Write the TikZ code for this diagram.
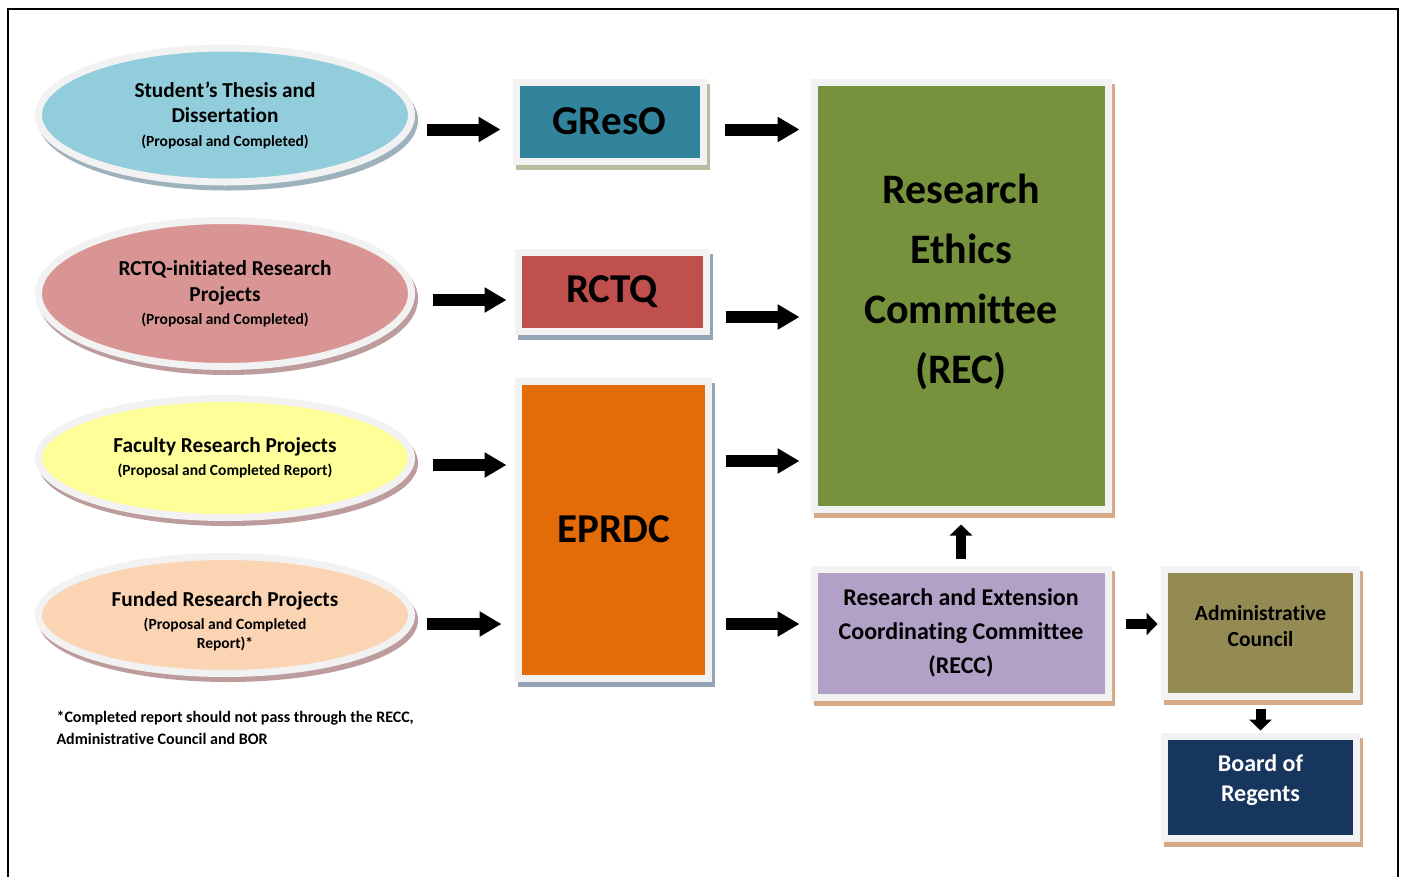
\documentclass[tikz,border=0pt]{standalone}
\usepackage{fontspec}
\setmainfont{Carlito}[Ligatures=NoCommon]
\usetikzlibrary{shapes.geometric,shadows,arrows.meta}

\definecolor{rim}{HTML}{F2F2F2}
\definecolor{thesisfill}{HTML}{92CDDC}
\definecolor{rctqfill}{HTML}{D99594}
\definecolor{facultyfill}{HTML}{FFFF99}
\definecolor{fundedfill}{HTML}{FBD4B4}
\definecolor{gresofill}{HTML}{31849B}
\definecolor{rctqbox}{HTML}{C0504D}
\definecolor{eprdcfill}{HTML}{E36C09}
\definecolor{recfill}{HTML}{76923C}
\definecolor{reccfill}{HTML}{B2A1C7}
\definecolor{adminfill}{HTML}{948A54}
\definecolor{borfill}{HTML}{17365D}
\definecolor{shblue}{HTML}{9DB2BD}
\definecolor{shmauve}{HTML}{BC9C9C}
\definecolor{shgreen}{HTML}{B8BEA0}
\definecolor{shsteel}{HTML}{95A3B6}
\definecolor{shtan}{HTML}{D6A987}

\newcommand{\sm}{\fontsize{15.5}{18}\selectfont}

\begin{document}
\begin{tikzpicture}[x=1pt, y=-1pt]
        \tikzstyle{oval}=[ellipse, draw=rim, line width=7pt, inner sep=0pt, minimum width=373pt, align=center, font=\bfseries\fontsize{21.3}{25}\selectfont]
        \tikzstyle{box}=[rectangle, draw=rim, line width=7pt, inner sep=0pt, align=center, font=\bfseries]
        \tikzstyle{lifted}=[drop shadow={shadow xshift=3pt, shadow yshift=-5pt, draw=#1, fill=#1, line width=7pt, opacity=1}]
        \tikzstyle{bigarrow}=[-{Triangle[length=22pt,width=24pt]}, line width=12pt]
        \tikzstyle{smallarrow}=[-{Triangle[length=11pt,width=22pt]}, line width=10pt]

        \useasboundingbox (0,0) rectangle (1407,876);
        \draw[line width=2pt] (8,880) |- (1398,9) -- (1398,880);

        % sources
        \node (thesis) [oval, fill=thesisfill, minimum height=134pt, lifted=shblue] at (225,115)
            {Student’s Thesis and\\Dissertation\\[-1pt]\sm (Proposal and Completed)};
        \node (rctqproj) [oval, fill=rctqfill, minimum height=146pt, lifted=shmauve] at (225,293.5)
            {RCTQ-initiated Research\\[1pt]Projects\\[-2pt]\sm (Proposal and Completed)};
        \node (faculty) [oval, fill=facultyfill, minimum height=119pt, lifted=shmauve] at (225,458)
            {Faculty Research Projects\\[-2pt]\sm (Proposal and Completed Report)};
        \node (funded) [oval, fill=fundedfill, minimum height=117pt, lifted=shmauve, text height=70pt] at (225,615)
            {Funded Research Projects\\[-2pt]\sm (Proposal and Completed\\[-6pt]\sm Report)*};

        % offices
        \node (greso) [box, fill=gresofill, minimum width=187pt, minimum height=79pt, lifted=shgreen,
            font=\bfseries\fontsize{41}{40}\selectfont] at (609.5,121.5) {GResO};
        \node (rctq) [box, fill=rctqbox, minimum width=188pt, minimum height=79pt, lifted=shsteel,
            font=\bfseries\fontsize{41}{40}\selectfont] at (612,291.5) {RCTQ};
        \node (eprdc) [box, fill=eprdcfill, minimum width=190pt, minimum height=297pt, lifted=shsteel,
            font=\bfseries\fontsize{41}{40}\selectfont] at (613.5,529.5) {EPRDC};

        % committees
        \node (rec) [box, fill=recfill, minimum width=294pt, minimum height=427pt, lifted=shtan, text depth=34pt,
            font=\bfseries\fontsize{42}{60}\selectfont] at (961,295.5) {Research\\Ethics\\Committee\\(REC)};
        \node (recc) [box, fill=reccfill, minimum width=294pt, minimum height=128pt, lifted=shtan,
            font=\bfseries\fontsize{24}{34}\selectfont] at (961,633)
            {Research and Extension\\Coordinating Committee\\(RECC)};
        \node (admin) [box, fill=adminfill, minimum width=192pt, minimum height=127pt, lifted=shtan, text depth=14pt,
            font=\bfseries\fontsize{21.5}{26}\selectfont] at (1260.5,632.5) {Administrative\\Council};
        \node (bor) [box, fill=borfill, minimum width=192pt, minimum height=102pt, lifted=shtan, text=white, text depth=18pt,
            font=\bfseries\fontsize{24}{30}\selectfont] at (1260.5,787) {Board of\\Regents};

        \node (note) [anchor=west, align=left, font=\bfseries\fontsize{16}{22}\selectfont] at (53,728)
            {*Completed report should not pass through the RECC,\\Administrative Council and BOR};

        % arrow levels
        \coordinate (lvl1) at (0,129.5);
        \coordinate (lvl2a) at (0,300);
        \coordinate (lvl2b) at (0,317);
        \coordinate (lvl3a) at (0,465);
        \coordinate (lvl3b) at (0,461);
        \coordinate (lvl4) at (0,624);

        \draw
            (thesis.east |- lvl1) edge [bigarrow, shorten <=11.5pt, shorten >=12pt] (greso.west |- lvl1)
            (greso.east |- lvl1) edge [bigarrow, shorten <=18.5pt, shorten >=11pt] (rec.west |- lvl1)
            (rctqproj.east |- lvl2a) edge [bigarrow, shorten <=17.5pt, shorten >=8pt] (rctq.west |- lvl2a)
            (rctq.east |- lvl2b) edge [bigarrow, shorten <=16pt, shorten >=11pt] (rec.west |- lvl2b)
            (faculty.east |- lvl3a) edge [bigarrow, shorten <=17.5pt, shorten >=8.5pt] (eprdc.west |- lvl3a)
            (eprdc.east |- lvl3b) edge [bigarrow, shorten <=13.5pt, shorten >=11pt] (rec.west |- lvl3b)
            (funded.east |- lvl4) edge [bigarrow, shorten <=11.5pt, shorten >=13.5pt] (eprdc.west |- lvl4)
            (eprdc.east |- lvl4) edge [bigarrow, shorten <=13.5pt, shorten >=11pt] (recc.west |- lvl4)
            (recc.north) edge [smallarrow, shorten <=7pt, shorten >=12pt] (rec.south)
            (recc.east |- lvl4) edge [smallarrow, shorten <=14.5pt, shorten >=3.5pt] (admin.west |- lvl4)
            (admin.south) edge [smallarrow, shorten <=9pt, shorten >=2pt] (bor.north)
        ;
\end{tikzpicture}
\end{document}
